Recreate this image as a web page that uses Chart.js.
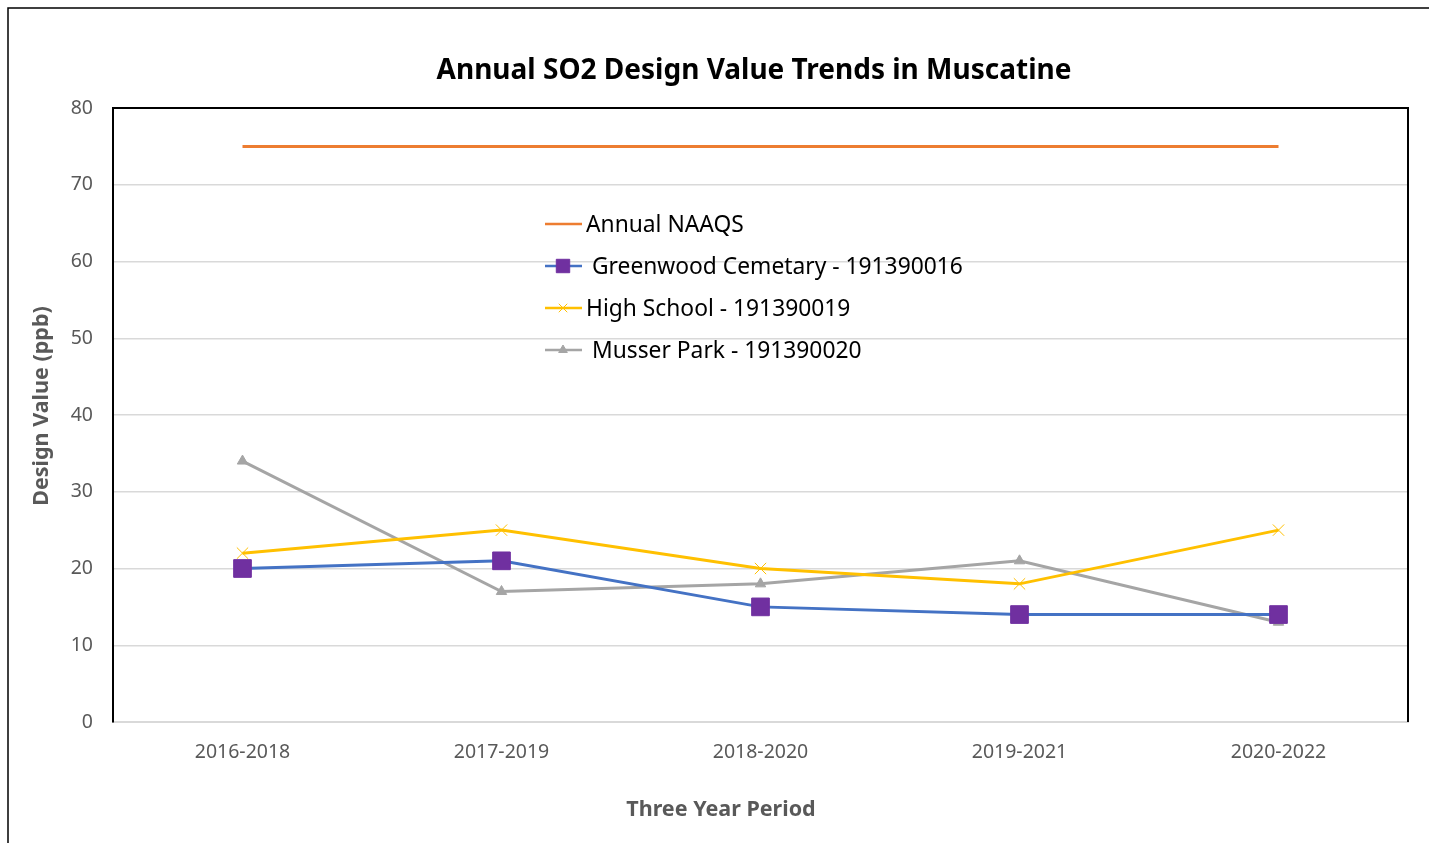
<!DOCTYPE html>
<html>
<head>
<meta charset="utf-8">
<script src="https://cdn.jsdelivr.net/npm/chart.js@4.4.0/dist/chart.umd.min.js"></script>
<style>
  body { margin: 0; background: #fff; }
  #wrap { width: 1429px; height: 843px; }
</style>
</head>
<body>
<div id="wrap"><canvas id="so2" width="1429" height="843"></canvas></div>
<script>
const periods = ["2016-2018", "2017-2019", "2018-2020", "2019-2021", "2020-2022"];
const naaqs = [75, 75, 75, 75, 75];
const greenwood = [20, 21, 15, 14, 14];
const highSchool = [22, 25, 20, 18, 25];
const musserPark = [34, 17, 18, 21, 13];
const yTicks = [0, 10, 20, 30, 40, 50, 60, 70, 80];

const FONT = "'Noto Sans', 'Open Sans', sans-serif";

// frame, plot border, titles and the in-plot legend
const decor = {
  id: "decor",
  beforeDraw(chart) {
    const ctx = chart.ctx;
    ctx.save();
    ctx.fillStyle = "#fff";
    ctx.fillRect(0, 0, chart.width, chart.height);
    ctx.strokeStyle = "#000";
    ctx.lineWidth = 1.5;
    ctx.beginPath();
    ctx.moveTo(8, chart.height + 5);
    ctx.lineTo(8, 8);
    ctx.lineTo(chart.width + 5, 8);
    ctx.stroke();
    ctx.restore();
  },
  afterDraw(chart) {
    const ctx = chart.ctx;
    const a = chart.chartArea;
    ctx.save();
    ctx.strokeStyle = "#000";
    ctx.lineWidth = 2;
    ctx.beginPath();
    ctx.moveTo(a.left, a.top);
    ctx.lineTo(a.right, a.top);
    ctx.lineTo(a.right, a.bottom);
    ctx.stroke();

    // titles
    ctx.textAlign = "center";
    ctx.textBaseline = "middle";
    ctx.fillStyle = "#000";
    ctx.font = "bold 28px " + FONT;
    ctx.fillText("Annual SO2 Design Value Trends in Muscatine", 754, 71);
    ctx.fillStyle = "#595959";
    ctx.font = "bold 21.5px " + FONT;
    ctx.fillText("Three Year Period", 721, 810);
    ctx.translate(42, 406);
    ctx.rotate(-Math.PI / 2);
    ctx.fillText("Design Value (ppb)", 0, 0);
    ctx.restore();

    // legend
    const rows = [224, 266, 308, 350];
    const textX = [586, 592, 586, 592];
    const legendRadius = [0, 9.5, 6, 5];
    ctx.save();
    chart.data.datasets.forEach((ds, i) => {
      const y = rows[i];
      ctx.strokeStyle = ds.borderColor;
      ctx.lineWidth = 2.5;
      ctx.beginPath();
      ctx.moveTo(545, y);
      ctx.lineTo(582, y);
      ctx.stroke();
      if (legendRadius[i] > 0) {
        ctx.fillStyle = ds.pointBackgroundColor;
        ctx.strokeStyle = ds.pointBorderColor;
        ctx.lineWidth = 1;
        Chart.helpers.drawPoint(ctx, {
          pointStyle: ds.pointStyle,
          radius: legendRadius[i],
          rotation: 0,
          borderWidth: 1
        }, 563, y);
      }
      ctx.fillStyle = "#000";
      ctx.font = "22.8px " + FONT;
      ctx.textAlign = "left";
      ctx.textBaseline = "middle";
      ctx.fillText(ds.label, textX[i], y + 2);
    });
    ctx.restore();
  }
};

new Chart("so2", {
  type: "line",
  data: {
    labels: periods,
    datasets: [
      {
        label: "Annual NAAQS",
        data: naaqs,
        borderColor: "#ED7D31",
        borderWidth: 3,
        pointRadius: 0,
        pointStyle: false,
        pointBackgroundColor: "#ED7D31",
        pointBorderColor: "#ED7D31",
      },
      {
        label: "Greenwood Cemetary - 191390016",
        data: greenwood,
        borderColor: "#4472C4",
        borderWidth: 3,
        pointStyle: "rect",
        pointRadius: 12.5,
        pointBackgroundColor: "#7030A0",
        pointBorderColor: "#7030A0",
        pointBorderWidth: 1,
      },
      {
        label: "High School - 191390019",
        data: highSchool,
        borderColor: "#FFC000",
        borderWidth: 3,
        pointStyle: "crossRot",
        pointRadius: 8,
        pointBackgroundColor: "#FFC000",
        pointBorderColor: "#FFC000",
        pointBorderWidth: 1,
      },
      {
        label: "Musser Park - 191390020",
        data: musserPark,
        borderColor: "#A5A5A5",
        borderWidth: 3,
        pointStyle: "triangle",
        pointRadius: 6,
        pointBackgroundColor: "#A5A5A5",
        pointBorderColor: "#A5A5A5",
        pointBorderWidth: 1,
      },
    ],
  },
  options: {
    responsive: false,
    animation: false,
    clip: false,
    layout: { padding: { top: 108, right: 21, left: 0, bottom: 0 } },
    plugins: {
      legend: { display: false },
      title: { display: false },
      tooltip: { enabled: false },
    },
    scales: {
      x: {
        offset: true,
        grid: { display: false, drawTicks: false },
        border: { color: "#D9D9D9", width: 2 },
        ticks: {
          padding: 19,
          color: "#595959",
          font: { family: FONT, size: 19.5 },
        },
        afterFit(scale) { scale.height = 121; },
      },
      y: {
        min: 0,
        max: 80,
        afterBuildTicks(scale) { scale.ticks = yTicks.map(v => ({ value: v })); },
        grid: { color: "#D9D9D9", lineWidth: 1.5, drawTicks: false },
        border: { color: "#000", width: 2 },
        ticks: {
          padding: 20,
          color: "#595959",
          font: { family: FONT, size: 19.5 },
        },
        afterFit(scale) { scale.width = 113; },
      },
    },
  },
  plugins: [decor],
});
</script>
</body>
</html>
